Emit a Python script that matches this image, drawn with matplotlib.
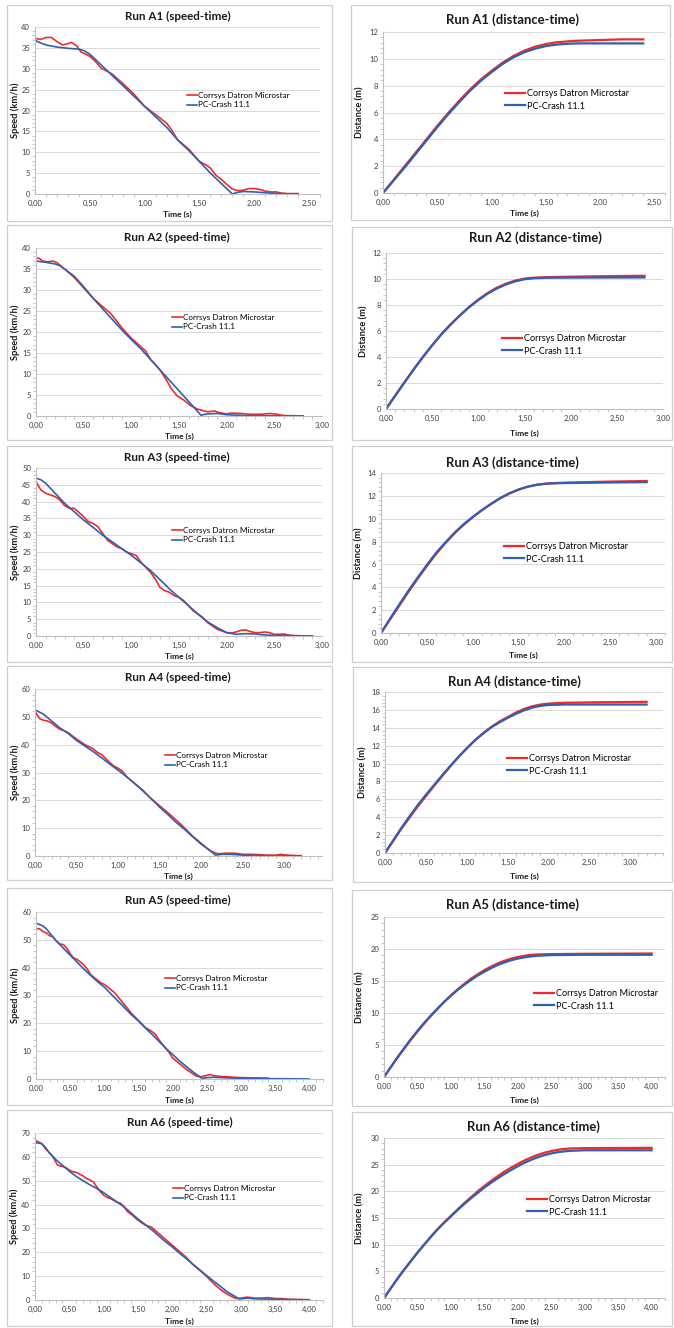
import matplotlib
matplotlib.use("Agg")
import matplotlib.pyplot as plt
from matplotlib.patches import Rectangle
from matplotlib.ticker import MultipleLocator, FuncFormatter

plt.rcParams['font.family'] = ['Lato', 'DejaVu Sans']

W, H = 674, 1328
RED = '#f02a2a'
BLUE = '#2f5fb3'
LABELS = ['Corrsys Datron Microstar', 'PC-Crash 11.1']

# ---- speed-time data (km/h) ----
a1s_t_red = [0, 0.05, 0.1, 0.15, 0.2, 0.25, 0.3, 0.33, 0.38, 0.42, 0.5, 0.55, 0.6, 0.7, 0.8, 0.9, 1.0,
             1.1, 1.2, 1.25, 1.3, 1.4, 1.5, 1.57, 1.6, 1.65, 1.7, 1.75, 1.8, 1.85, 1.9, 1.95, 2.0, 2.05,
             2.1, 2.15, 2.2, 2.25, 2.3, 2.4]
a1s_v_red = [37.3, 37.0, 37.5, 37.5, 36.5, 35.7, 36.0, 36.3, 35.5, 34.0, 33.0, 31.8, 30.2, 28.8, 26.5,
             24.0, 21.0, 19.0, 17.0, 15.2, 13.0, 10.8, 7.8, 6.8, 6.2, 4.5, 3.5, 2.3, 1.2, 0.8, 0.9, 1.3,
             1.3, 1.1, 0.7, 0.5, 0.5, 0.2, 0.1, 0.1]
a1s_t_blue = [0, 0.05, 0.1, 0.2, 0.3, 0.4, 0.45, 0.5, 0.6, 0.7, 0.8, 0.9, 1.0, 1.1, 1.2, 1.3, 1.4, 1.5,
              1.6, 1.7, 1.8, 1.85, 1.9, 2.0, 2.1, 2.2, 2.3, 2.4]
a1s_v_blue = [36.8, 36.2, 35.7, 35.2, 34.9, 34.7, 34.3, 33.5, 31.0, 28.5, 26.0, 23.5, 21.0, 18.5, 16.0,
              13.0, 10.5, 7.8, 5.0, 2.5, 0.0, 0.4, 0.6, 0.5, 0.3, 0.15, 0.05, 0.0]

a2s_t_red = [0, 0.03, 0.07, 0.12, 0.18, 0.22, 0.3, 0.4, 0.5, 0.6, 0.7, 0.78, 0.85, 0.9, 1.0, 1.1, 1.15,
             1.2, 1.3, 1.37, 1.42, 1.48, 1.55, 1.62, 1.7, 1.8, 1.87, 1.92, 2.0, 2.05, 2.15, 2.25, 2.35,
             2.45, 2.5, 2.55, 2.6, 2.8]
a2s_v_red = [37.5, 37.6, 36.9, 36.7, 36.9, 36.5, 35.0, 33.0, 30.5, 28.0, 26.0, 24.5, 22.5, 21.0, 18.5,
             16.5, 15.5, 13.5, 11.0, 8.5, 6.5, 4.8, 3.8, 2.5, 1.6, 1.0, 1.2, 0.8, 0.5, 0.7, 0.6, 0.4,
             0.4, 0.6, 0.5, 0.3, 0.1, 0.0]
a2s_t_blue = [0, 0.1, 0.2, 0.25, 0.3, 0.4, 0.5, 0.6, 0.7, 0.8, 0.9, 1.0, 1.1, 1.2, 1.3, 1.4, 1.5, 1.6,
              1.73, 1.8, 1.9, 2.0, 2.1, 2.2, 2.8]
a2s_v_blue = [36.9, 36.6, 36.2, 35.8, 35.0, 33.3, 30.8, 28.0, 25.5, 23.0, 20.5, 18.2, 16.0, 13.5, 11.0,
              8.5, 6.0, 3.5, 0.2, 0.5, 0.6, 0.3, 0.2, 0.1, 0.0]

a3s_t_red = [0, 0.05, 0.1, 0.15, 0.2, 0.25, 0.3, 0.35, 0.4, 0.45, 0.5, 0.55, 0.6, 0.65, 0.7, 0.75, 0.8,
             0.85, 0.9, 0.95, 1.0, 1.05, 1.1, 1.15, 1.2, 1.25, 1.3, 1.35, 1.4, 1.45, 1.5, 1.55, 1.6,
             1.65, 1.7, 1.75, 1.8, 1.85, 1.9, 1.95, 2.0, 2.05, 2.1, 2.15, 2.2, 2.25, 2.3, 2.35, 2.4,
             2.45, 2.5, 2.55, 2.6, 2.65, 2.7, 2.9]
a3s_v_red = [46.0, 43.5, 42.5, 42.0, 41.5, 40.5, 38.8, 38.0, 38.0, 36.8, 35.5, 34.0, 33.5, 32.5, 30.5,
             28.5, 27.5, 26.5, 26.0, 25.0, 24.5, 24.0, 22.0, 20.5, 19.0, 17.0, 14.5, 13.5, 13.0, 12.0,
             11.5, 10.5, 9.0, 7.5, 6.5, 5.5, 4.0, 3.0, 2.0, 1.5, 1.0, 0.9, 1.2, 1.7, 1.8, 1.3, 1.0,
             1.0, 1.2, 1.0, 0.5, 0.5, 0.6, 0.3, 0.1, 0.0]
a3s_t_blue = [0, 0.05, 0.1, 0.15, 0.2, 0.3, 0.4, 0.5, 0.6, 0.7, 0.8, 0.9, 1.0, 1.1, 1.2, 1.3, 1.4, 1.5,
              1.6, 1.7, 1.8, 1.9, 2.0, 2.1, 2.2, 2.3, 2.4, 2.5, 2.9]
a3s_v_blue = [47.0, 46.5, 45.5, 44.0, 42.5, 39.5, 37.0, 34.5, 32.3, 30.0, 28.0, 26.0, 24.0, 21.8, 19.5,
              16.8, 14.0, 11.5, 9.0, 6.5, 4.2, 2.5, 1.0, 0.5, 0.7, 0.6, 0.3, 0.2, 0.0]

a4s_t_red = [0, 0.03, 0.06, 0.1, 0.15, 0.2, 0.25, 0.3, 0.35, 0.4, 0.5, 0.6, 0.7, 0.75, 0.8, 0.85, 0.9,
             0.95, 1.0, 1.05, 1.1, 1.2, 1.3, 1.4, 1.5, 1.6, 1.7, 1.75, 1.8, 1.9, 2.0, 2.1, 2.15, 2.2,
             2.3, 2.4, 2.5, 2.6, 2.7, 2.8, 2.9, 2.95, 3.0, 3.1, 3.2]
a4s_v_red = [52.0, 50.5, 49.3, 48.8, 48.5, 47.8, 46.5, 45.5, 45.0, 44.3, 42.0, 40.0, 38.5, 37.2, 36.5,
             35.0, 33.5, 32.3, 31.5, 30.5, 28.5, 26.0, 23.5, 20.5, 18.0, 15.5, 12.8, 11.5, 10.0, 7.0,
             4.5, 2.0, 1.3, 0.8, 1.0, 1.0, 0.6, 0.6, 0.5, 0.3, 0.3, 0.6, 0.4, 0.2, 0.1]
a4s_t_blue = [0, 0.1, 0.2, 0.3, 0.4, 0.5, 0.6, 0.7, 0.8, 0.9, 1.0, 1.1, 1.2, 1.3, 1.4, 1.5, 1.6, 1.7,
              1.8, 1.9, 2.0, 2.1, 2.17, 2.25, 2.35, 2.5, 2.7, 3.2]
a4s_v_blue = [52.5, 51.0, 48.5, 46.0, 44.0, 41.5, 39.5, 37.5, 35.3, 33.0, 30.8, 28.5, 26.0, 23.3, 20.5,
              17.5, 14.8, 12.0, 9.5, 6.8, 4.2, 2.0, 0.3, 0.6, 0.6, 0.3, 0.1, 0.0]

a5s_t_red = [0, 0.05, 0.1, 0.15, 0.2, 0.25, 0.3, 0.35, 0.4, 0.45, 0.5, 0.55, 0.6, 0.65, 0.7, 0.75, 0.8,
             0.9, 0.95, 1.0, 1.05, 1.1, 1.15, 1.2, 1.3, 1.4, 1.5, 1.6, 1.7, 1.75, 1.8, 1.85, 1.9, 1.95,
             2.0, 2.1, 2.2, 2.3, 2.35, 2.4, 2.45, 2.5, 2.55, 2.6, 2.7, 2.8, 2.9, 3.0, 3.2, 3.4]
a5s_v_red = [54.0, 54.0, 53.0, 52.5, 51.5, 51.0, 49.5, 48.5, 48.3, 47.0, 45.0, 43.5, 43.0, 42.0, 41.0,
             39.5, 37.5, 35.5, 34.5, 34.0, 33.0, 32.0, 31.0, 29.5, 26.5, 23.5, 21.0, 18.5, 17.0, 16.0,
             14.0, 12.5, 11.0, 9.5, 7.5, 5.5, 3.5, 1.8, 1.0, 0.8, 1.0, 1.3, 1.6, 1.2, 0.9, 0.8, 0.6,
             0.5, 0.4, 0.3]
a5s_t_blue = [0, 0.05, 0.1, 0.15, 0.2, 0.3, 0.4, 0.5, 0.6, 0.7, 0.8, 0.9, 1.0, 1.1, 1.2, 1.3, 1.4, 1.5,
              1.6, 1.7, 1.8, 1.9, 2.0, 2.1, 2.2, 2.3, 2.43, 2.5, 2.6, 2.8, 3.0, 4.0]
a5s_v_blue = [56.0, 55.5, 55.0, 54.0, 52.5, 49.5, 47.0, 44.5, 42.0, 39.5, 37.2, 35.0, 33.0, 30.5, 28.0,
              25.5, 23.0, 20.8, 18.3, 16.0, 13.5, 11.0, 8.8, 6.5, 4.5, 2.5, 0.2, 0.5, 0.6, 0.4, 0.2, 0.0]

a6s_t_red = [0, 0.05, 0.1, 0.15, 0.2, 0.25, 0.3, 0.33, 0.4, 0.45, 0.5, 0.55, 0.6, 0.65, 0.7, 0.75, 0.8,
             0.85, 0.9, 0.95, 1.0, 1.05, 1.1, 1.2, 1.25, 1.3, 1.35, 1.4, 1.5, 1.6, 1.7, 1.8, 1.9, 2.0,
             2.1, 2.2, 2.3, 2.4, 2.5, 2.6, 2.7, 2.8, 2.9, 2.95, 3.0, 3.1, 3.2, 3.3, 3.4, 3.5, 3.6, 3.7,
             3.9, 4.0]
a6s_v_red = [67.0, 66.3, 65.5, 63.5, 62.0, 60.5, 58.0, 56.5, 56.0, 55.5, 54.5, 53.8, 53.5, 52.8, 52.0,
             51.0, 50.3, 49.5, 47.5, 45.5, 44.0, 43.0, 42.5, 41.0, 40.5, 39.0, 37.0, 36.0, 33.5, 31.5,
             30.5, 28.0, 25.5, 23.0, 20.5, 18.0, 15.0, 12.5, 10.0, 7.0, 4.5, 2.5, 1.0, 0.6, 0.8, 1.2,
             0.8, 0.8, 1.0, 0.6, 0.6, 0.3, 0.2, 0.1]
a6s_t_blue = [0, 0.1, 0.15, 0.2, 0.3, 0.4, 0.5, 0.6, 0.7, 0.8, 0.9, 1.0, 1.1, 1.2, 1.3, 1.4, 1.5, 1.6,
              1.7, 1.8, 1.9, 2.0, 2.1, 2.2, 2.3, 2.4, 2.5, 2.6, 2.7, 2.8, 2.9, 2.98, 3.1, 3.2, 3.5, 4.0]
a6s_v_blue = [66.0, 65.5, 64.0, 62.0, 59.0, 56.5, 54.0, 51.8, 50.0, 48.3, 46.8, 45.0, 43.0, 41.0, 39.0,
              36.5, 34.0, 31.8, 29.5, 27.0, 24.5, 22.3, 19.8, 17.5, 15.0, 12.7, 10.3, 8.0, 5.8, 3.5,
              1.8, 0.4, 0.8, 0.5, 0.3, 0.0]

# ---- distance-time data (m) ----
a1d_t = [0, 0.1, 0.2, 0.3, 0.4, 0.5, 0.6, 0.7, 0.8, 0.9, 1.0, 1.1, 1.2, 1.3, 1.4, 1.5, 1.6, 1.7, 1.8,
         2.0, 2.2, 2.4]
a1d_red = [0, 1.0, 2.0, 3.0, 4.0, 5.0, 5.95, 6.85, 7.7, 8.45, 9.1, 9.7, 10.2, 10.6, 10.9, 11.1, 11.23,
           11.3, 11.35, 11.4, 11.45, 11.45]
a1d_blue = [0, 0.95, 1.9, 2.9, 3.9, 4.9, 5.85, 6.75, 7.6, 8.35, 9.0, 9.6, 10.1, 10.48, 10.75, 10.95,
            11.06, 11.12, 11.15, 11.15, 11.15, 11.15]

a2d_t = [0, 0.1, 0.2, 0.3, 0.4, 0.5, 0.6, 0.7, 0.8, 0.9, 1.0, 1.1, 1.2, 1.3, 1.4, 1.5, 1.6, 1.7, 1.8,
         2.2, 2.8]
a2d_red = [0, 1.03, 2.05, 3.05, 4.0, 4.9, 5.75, 6.5, 7.2, 7.85, 8.42, 8.92, 9.33, 9.65, 9.88, 10.03,
           10.1, 10.13, 10.15, 10.2, 10.25]
a2d_blue = [0, 1.03, 2.05, 3.05, 4.0, 4.9, 5.75, 6.5, 7.2, 7.83, 8.38, 8.87, 9.27, 9.58, 9.82, 9.98,
            10.06, 10.09, 10.1, 10.11, 10.12]

a3d_t = [0, 0.1, 0.2, 0.3, 0.4, 0.5, 0.6, 0.7, 0.8, 0.9, 1.0, 1.1, 1.2, 1.3, 1.4, 1.5, 1.6, 1.7, 1.8,
         1.9, 2.0, 2.5, 2.9]
a3d_red = [0, 1.2, 2.4, 3.6, 4.75, 5.85, 6.9, 7.83, 8.7, 9.45, 10.12, 10.73, 11.28, 11.78, 12.2, 12.54,
           12.8, 12.97, 13.07, 13.12, 13.15, 13.25, 13.3]
a3d_blue = [0, 1.27, 2.5, 3.7, 4.85, 5.95, 7.0, 7.9, 8.75, 9.5, 10.15, 10.75, 11.3, 11.8, 12.22, 12.55,
            12.8, 12.97, 13.06, 13.1, 13.12, 13.17, 13.2]

a4d_t = [0, 0.1, 0.2, 0.3, 0.4, 0.5, 0.6, 0.7, 0.8, 0.9, 1.0, 1.1, 1.2, 1.3, 1.4, 1.5, 1.6, 1.7, 1.8,
         1.9, 2.0, 2.2, 2.6, 3.2]
a4d_red = [0, 1.35, 2.7, 3.95, 5.2, 6.35, 7.5, 8.6, 9.7, 10.75, 11.7, 12.6, 13.4, 14.1, 14.7, 15.2,
           15.7, 16.1, 16.4, 16.6, 16.7, 16.8, 16.85, 16.9]
a4d_blue = [0, 1.4, 2.8, 4.1, 5.35, 6.5, 7.6, 8.7, 9.75, 10.75, 11.7, 12.6, 13.35, 14.05, 14.6, 15.1,
            15.55, 15.95, 16.25, 16.45, 16.55, 16.6, 16.6, 16.6]

a5d_t = [0, 0.1, 0.2, 0.3, 0.4, 0.5, 0.6, 0.7, 0.8, 0.9, 1.0, 1.1, 1.2, 1.3, 1.4, 1.5, 1.6, 1.7, 1.8,
         1.9, 2.0, 2.1, 2.2, 2.3, 2.5, 3.0, 4.0]
a5d_red = [0, 1.5, 3.0, 4.4, 5.8, 7.1, 8.35, 9.55, 10.65, 11.75, 12.75, 13.7, 14.55, 15.35, 16.05,
           16.7, 17.25, 17.75, 18.15, 18.5, 18.75, 18.95, 19.08, 19.15, 19.2, 19.25, 19.3]
a5d_blue = [0, 1.55, 3.05, 4.5, 5.9, 7.2, 8.45, 9.6, 10.7, 11.75, 12.7, 13.6, 14.4, 15.15, 15.85,
            16.45, 17.0, 17.5, 17.9, 18.25, 18.5, 18.7, 18.85, 18.95, 19.05, 19.1, 19.1]

a6d_t = [0, 0.1, 0.2, 0.3, 0.4, 0.5, 0.6, 0.7, 0.8, 0.9, 1.0, 1.1, 1.2, 1.3, 1.4, 1.5, 1.6, 1.7, 1.8,
         1.9, 2.0, 2.1, 2.2, 2.3, 2.4, 2.5, 2.6, 2.7, 2.8, 3.0, 4.0]
a6d_red = [0, 1.8, 3.6, 5.3, 6.9, 8.5, 10.0, 11.5, 12.9, 14.2, 15.4, 16.6, 17.8, 18.9, 20.0, 21.0,
           21.95, 22.85, 23.7, 24.45, 25.15, 25.8, 26.35, 26.85, 27.25, 27.55, 27.8, 27.95, 28.05,
           28.1, 28.15]
a6d_blue = [0, 1.8, 3.6, 5.3, 6.9, 8.5, 10.0, 11.45, 12.85, 14.1, 15.3, 16.5, 17.6, 18.7, 19.7, 20.7,
            21.6, 22.45, 23.25, 24.0, 24.7, 25.35, 25.9, 26.4, 26.8, 27.1, 27.35, 27.5, 27.6, 27.7,
            27.7]

# panel layout in pixels: border box, axes box, title pos, xlabel y, ylabel x, legend pos, limits
panels = [
    dict(title='Run A1 (speed-time)', kind='s', red=(a1s_t_red, a1s_v_red), blue=(a1s_t_blue, a1s_v_blue),
         border=(7, 5, 332, 221), ax=(35, 27, 320, 194), tpos=(178, 16), xly=214, ylx=15,
         leg=(187, 100), xmax=2.6, ymax=40, ystep=5),
    dict(title='Run A1 (distance-time)', kind='d', red=(a1d_t, a1d_red), blue=(a1d_t, a1d_blue),
         border=(351, 5, 670, 220), ax=(383, 32, 665, 193), tpos=(512, 20), xly=213, ylx=360,
         leg=(505, 100), xmax=2.6, ymax=12, ystep=2),
    dict(title='Run A2 (speed-time)', kind='s', red=(a2s_t_red, a2s_v_red), blue=(a2s_t_blue, a2s_v_blue),
         border=(7, 225, 332, 440), ax=(36, 248, 322, 416), tpos=(177, 237), xly=436, ylx=15,
         leg=(172, 322), xmax=3.0, ymax=40, ystep=5),
    dict(title='Run A2 (distance-time)', kind='d', red=(a2d_t, a2d_red), blue=(a2d_t, a2d_blue),
         border=(352, 227, 672, 440), ax=(386, 253, 663, 409), tpos=(535, 238), xly=433, ylx=364,
         leg=(502, 345), xmax=3.0, ymax=12, ystep=2),
    dict(title='Run A3 (speed-time)', kind='s', red=(a3s_t_red, a3s_v_red), blue=(a3s_t_blue, a3s_v_blue),
         border=(7, 446, 332, 662), ax=(36, 468, 322, 636), tpos=(177, 457), xly=656, ylx=15,
         leg=(172, 535), xmax=3.0, ymax=50, ystep=5),
    dict(title='Run A3 (distance-time)', kind='d', red=(a3d_t, a3d_red), blue=(a3d_t, a3d_blue),
         border=(352, 446, 672, 662), ax=(381, 473, 665, 633), tpos=(512, 463), xly=655, ylx=359,
         leg=(504, 553), xmax=3.1, ymax=14, ystep=2),
    dict(title='Run A4 (speed-time)', kind='s', red=(a4s_t_red, a4s_v_red), blue=(a4s_t_blue, a4s_v_blue),
         border=(7, 666, 332, 880), ax=(35, 689, 322, 856), tpos=(178, 677), xly=876, ylx=15,
         leg=(165, 760), xmax=3.45, ymax=60, ystep=10),
    dict(title='Run A4 (distance-time)', kind='d', red=(a4d_t, a4d_red), blue=(a4d_t, a4d_blue),
         border=(353, 667, 672, 882), ax=(385, 692, 663, 853), tpos=(514, 682), xly=876, ylx=363,
         leg=(507, 765), xmax=3.4, ymax=18, ystep=2),
    dict(title='Run A5 (speed-time)', kind='s', red=(a5s_t_red, a5s_v_red), blue=(a5s_t_blue, a5s_v_blue),
         border=(7, 888, 332, 1105), ax=(36, 912, 323, 1079), tpos=(178, 900), xly=1100, ylx=15,
         leg=(165, 983), xmax=4.2, ymax=60, ystep=10),
    dict(title='Run A5 (distance-time)', kind='d', red=(a5d_t, a5d_red), blue=(a5d_t, a5d_blue),
         border=(352, 890, 672, 1106), ax=(384, 917, 665, 1077), tpos=(513, 905), xly=1100, ylx=360,
         leg=(534, 1000), xmax=4.2, ymax=25, ystep=5),
    dict(title='Run A6 (speed-time)', kind='s', red=(a6s_t_red, a6s_v_red), blue=(a6s_t_blue, a6s_v_blue),
         border=(7, 1110, 332, 1326), ax=(35, 1133, 323, 1300), tpos=(180, 1122), xly=1321, ylx=14,
         leg=(173, 1193), xmax=4.2, ymax=70, ystep=10),
    dict(title='Run A6 (distance-time)', kind='d', red=(a6d_t, a6d_red), blue=(a6d_t, a6d_blue),
         border=(352, 1112, 672, 1326), ax=(384, 1138, 665, 1298), tpos=(533, 1127), xly=1321, ylx=360,
         leg=(527, 1206), xmax=4.2, ymax=30, ystep=5),
]


def fx(x):
    return x / W


def fy(y):
    return 1 - y / H


fig = plt.figure(figsize=(W / 100, H / 100), dpi=100)
fig.patch.set_facecolor('white')
renderer = fig.canvas.get_renderer()


def fit_size(text, width_px, weight='normal'):
    # font size that makes text span width_px pixels
    t = fig.text(0, 0, text, fontsize=10, fontweight=weight)
    w = t.get_window_extent(renderer=renderer).width
    t.remove()
    return 10 * width_px / w


FS_TITLE_S = fit_size('Run A1 (speed-time)', 106, 'bold')
FS_TITLE_D = fit_size('Run A1 (distance-time)', 132, 'bold')
FS_LEG_S = fit_size(LABELS[0], 92)
FS_LEG_D = fit_size(LABELS[0], 103)
FS_XLAB = fit_size('Time (s)', 29, 'bold')
FS_YLAB = fit_size('Speed (km/h)', 55, 'bold')
FS_TICK = fit_size('0,00', 15)

comma = FuncFormatter(lambda v, pos: ('%.2f' % v).replace('.', ','))

for p in panels:
    bl, bt, br, bb = p['border']
    fig.patches.append(Rectangle((fx(bl), fy(bb)), fx(br - bl), (bb - bt) / H, transform=fig.transFigure,
                                 fill=False, edgecolor='#cfcfcf', linewidth=0.9))
    l, t, r, b = p['ax']
    ax = fig.add_axes([fx(l), fy(b), fx(r - l), (b - t) / H])
    lw = 1.2 if p['kind'] == 's' else 1.6
    ax.plot(*p['red'], color=RED, lw=lw, label=LABELS[0])
    ax.plot(*p['blue'], color=BLUE, lw=lw, label=LABELS[1])
    ax.set_xlim(0, p['xmax'])
    ax.set_ylim(0, p['ymax'])
    ax.xaxis.set_major_locator(MultipleLocator(0.5))
    ax.xaxis.set_minor_locator(MultipleLocator(0.1))
    ax.yaxis.set_major_locator(MultipleLocator(p['ystep']))
    ax.yaxis.set_minor_locator(MultipleLocator(p['ystep'] / 5))
    ax.xaxis.set_major_formatter(comma)
    ax.grid(axis='y', color='#d9d9d9', lw=0.7)
    ax.set_axisbelow(True)
    for s in ('top', 'right'):
        ax.spines[s].set_visible(False)
    for s in ('left', 'bottom'):
        ax.spines[s].set_color('#bfbfbf')
        ax.spines[s].set_linewidth(0.8)
    ax.tick_params(which='both', colors='#bfbfbf', labelcolor='#404040', labelsize=FS_TICK,
                   direction='out')
    ax.tick_params(which='major', length=0)
    ax.tick_params(which='minor', length=2, width=0.6)
    ax.tick_params(axis='x', which='major', pad=4)
    ax.tick_params(axis='y', which='major', pad=3.5)
    speed = p['kind'] == 's'
    fig.text(fx(p['tpos'][0]), fy(p['tpos'][1]), p['title'], ha='center', va='center',
             fontsize=FS_TITLE_S if speed else FS_TITLE_D, fontweight='bold', color='#1a1a1a')
    fig.text(fx((l + r) / 2), fy(p['xly']), 'Time (s)',
             ha='center', va='center', fontsize=FS_XLAB, fontweight='bold', color='#1a1a1a')
    ylab = 'Speed (km/h)' if speed else 'Distance (m)'
    fig.text(fx(p['ylx']), fy((t + b) / 2), ylab, ha='center', va='center', rotation=90,
             fontsize=FS_YLAB, fontweight='bold', color='#1a1a1a')
    ax.legend(loc='center left', bbox_to_anchor=(fx(p['leg'][0]), fy(p['leg'][1])),
              bbox_transform=fig.transFigure, frameon=False, borderpad=0, borderaxespad=0,
              handlelength=1.2 if speed else 2.2, handletextpad=0.2, labelspacing=0.35,
              fontsize=FS_LEG_S if speed else FS_LEG_D)

fig.savefig('out.png', dpi=100, facecolor='white')
